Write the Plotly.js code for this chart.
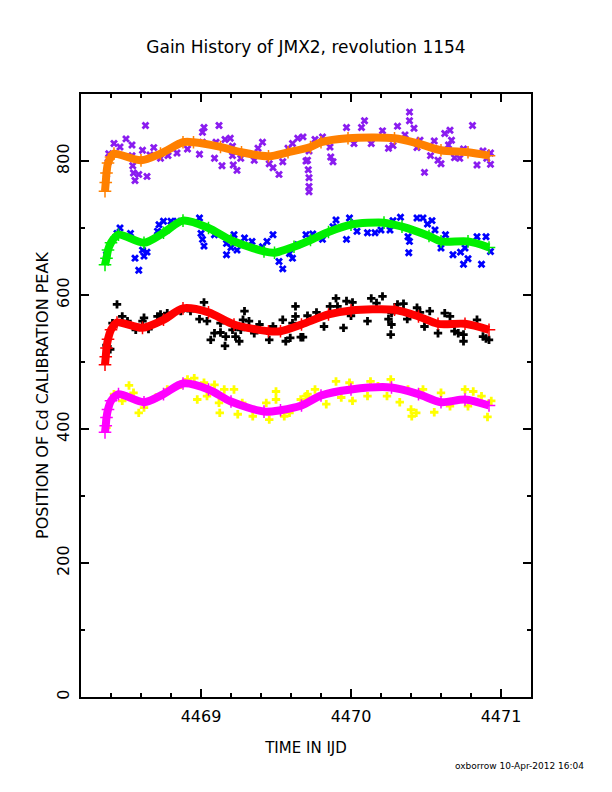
<!DOCTYPE html>
<html>
<head>
<meta charset="utf-8">
<script src="https://cdn.plot.ly/plotly-3.0.1.min.js"></script>
<style>
  html, body { margin: 0; padding: 0; background: #fff; }
  #plot { width: 612px; height: 792px; }
</style>
</head>
<body>
<div id="plot"></div>
<script>
// smoothed gain curves (drawn thick)
const orangeX = [4468.36, 4468.365, 4468.37, 4468.38, 4468.40, 4468.42, 4468.6, 4468.73, 4468.88, 4468.95, 4469.13, 4469.27, 4469.45, 4469.58, 4469.73, 4469.8, 4469.98, 4470.29, 4470.45, 4470.6, 4470.78, 4470.92]
const orangeY = [755, 768, 782, 797, 806, 811, 801, 811, 828, 828, 821, 813, 807, 813, 821, 828, 834, 834, 826, 816, 813, 808]

const greenX = [4468.36, 4468.37, 4468.38, 4468.40, 4468.45, 4468.62, 4468.75, 4468.88, 4469.05, 4469.2, 4469.42, 4469.49, 4469.62, 4469.73, 4469.85, 4470.0, 4470.22, 4470.34, 4470.52, 4470.6, 4470.78, 4470.92]
const greenY = [645, 655, 667, 678, 690, 678, 693, 711, 700, 682, 665, 663, 672, 682, 694, 705, 708, 702, 688, 680, 680, 671]

const redX = [4468.36, 4468.365, 4468.37, 4468.38, 4468.40, 4468.44, 4468.61, 4468.75, 4468.88, 4469.05, 4469.22, 4469.45, 4469.53, 4469.67, 4469.85, 4470.0, 4470.29, 4470.45, 4470.58, 4470.76, 4470.92]
const redY = [496, 508, 521, 534, 548, 559, 551, 563, 580, 574, 556, 546, 546, 556, 571, 577, 578, 568, 557, 557, 548]

const magentaX = [4468.36, 4468.365, 4468.37, 4468.38, 4468.40, 4468.45, 4468.62, 4468.75, 4468.88, 4469.05, 4469.2, 4469.42, 4469.53, 4469.67, 4469.8, 4470.0, 4470.27, 4470.45, 4470.6, 4470.76, 4470.92]
const magentaY = [395, 405, 417, 429, 442, 452, 440, 452, 468, 459, 441, 426, 428, 435, 450, 459, 462, 452, 440, 444, 435]

// raw peak positions
const purpleX = [4468.37, 4468.38, 4468.385, 4468.42, 4468.46, 4468.5, 4468.54, 4468.54, 4468.545, 4468.55, 4468.56, 4468.585, 4468.61, 4468.63, 4468.64, 4468.66, 4468.685, 4468.73, 4468.78, 4468.84, 4468.91, 4468.99, 4469.01, 4469.01, 4469.02, 4469.09, 4469.1, 4469.12, 4469.14, 4469.16, 4469.195, 4469.21, 4469.21, 4469.215, 4469.24, 4469.265, 4469.355, 4469.38, 4469.41, 4469.455, 4469.48, 4469.52, 4469.545, 4469.58, 4469.61, 4469.645, 4469.68, 4469.7, 4469.71, 4469.715, 4469.72, 4469.72, 4469.72, 4469.72, 4469.76, 4469.81, 4469.86, 4469.865, 4469.88, 4469.97, 4470.02, 4470.07, 4470.09, 4470.135, 4470.21, 4470.25, 4470.28, 4470.31, 4470.36, 4470.39, 4470.39, 4470.42, 4470.44, 4470.46, 4470.49, 4470.53, 4470.555, 4470.58, 4470.6, 4470.625, 4470.65, 4470.66, 4470.67, 4470.69, 4470.725, 4470.75, 4470.81, 4470.84, 4470.88, 4470.905, 4470.93, 4470.93]
const purpleY = [780, 798, 811, 826, 821, 833, 824, 808, 793, 782, 771, 780, 816, 853, 777, 809, 820, 804, 808, 812, 818, 810, 843, 828, 850, 804, 828, 853, 793, 832, 834, 822, 808, 794, 786, 804, 801, 819, 828, 796, 790, 780, 799, 819, 826, 834, 836, 800, 801, 787, 815, 775, 762, 754, 832, 836, 821, 806, 799, 850, 826, 850, 860, 826, 845, 819, 823, 852, 839, 873, 860, 849, 820, 831, 783, 808, 830, 801, 796, 841, 824, 846, 831, 805, 804, 818, 853, 794, 815, 804, 795, 812]

const blueX = [4468.37, 4468.44, 4468.46, 4468.53, 4468.56, 4468.585, 4468.61, 4468.62, 4468.64, 4468.71, 4468.72, 4468.75, 4468.8, 4468.84, 4468.99, 4469.0, 4469.01, 4469.02, 4469.09, 4469.17, 4469.17, 4469.2, 4469.22, 4469.24, 4469.29, 4469.34, 4469.41, 4469.44, 4469.48, 4469.52, 4469.545, 4469.59, 4469.61, 4469.645, 4469.7, 4469.745, 4469.81, 4469.88, 4469.9, 4469.97, 4469.99, 4470.04, 4470.11, 4470.16, 4470.2, 4470.26, 4470.28, 4470.33, 4470.38, 4470.385, 4470.39, 4470.44, 4470.48, 4470.51, 4470.54, 4470.56, 4470.6, 4470.63, 4470.68, 4470.73, 4470.75, 4470.76, 4470.78, 4470.84, 4470.87, 4470.9, 4470.93]
const blueY = [660, 692, 700, 692, 655, 637, 667, 658, 664, 695, 705, 710, 710, 710, 715, 692, 683, 673, 690, 677, 660, 671, 690, 667, 685, 680, 672, 680, 690, 650, 639, 662, 655, 675, 690, 691, 683, 702, 712, 683, 715, 695, 693, 693, 697, 697, 711, 716, 687, 663, 680, 715, 715, 706, 711, 697, 670, 690, 660, 664, 646, 670, 654, 687, 646, 687, 665]

const blackX = [4468.37, 4468.395, 4468.41, 4468.44, 4468.475, 4468.51, 4468.565, 4468.61, 4468.62, 4468.65, 4468.71, 4468.73, 4468.775, 4468.865, 4468.93, 4468.99, 4469.02, 4469.04, 4469.065, 4469.09, 4469.13, 4469.13, 4469.16, 4469.165, 4469.21, 4469.23, 4469.255, 4469.265, 4469.28, 4469.29, 4469.32, 4469.355, 4469.39, 4469.455, 4469.48, 4469.545, 4469.565, 4469.595, 4469.61, 4469.63, 4469.63, 4469.665, 4469.68, 4469.71, 4469.77, 4469.82, 4469.86, 4469.9, 4469.91, 4469.95, 4469.97, 4470.0, 4470.01, 4470.11, 4470.135, 4470.17, 4470.21, 4470.25, 4470.265, 4470.27, 4470.27, 4470.31, 4470.35, 4470.375, 4470.44, 4470.46, 4470.49, 4470.525, 4470.58, 4470.625, 4470.66, 4470.69, 4470.715, 4470.75, 4470.75, 4470.84, 4470.88, 4470.9, 4470.92]
const blackY = [525, 519, 558, 586, 568, 561, 548, 561, 566, 549, 568, 571, 573, 576, 576, 564, 589, 561, 533, 543, 558, 544, 524, 538, 548, 538, 531, 548, 563, 576, 561, 543, 556, 533, 553, 563, 531, 536, 558, 583, 568, 537, 537, 569, 574, 553, 583, 595, 583, 551, 591, 569, 589, 561, 595, 588, 598, 564, 541, 573, 556, 586, 587, 564, 581, 574, 553, 576, 543, 573, 568, 546, 543, 541, 531, 563, 538, 535, 533]

const yellowX = [4468.37, 4468.42, 4468.475, 4468.52, 4468.55, 4468.585, 4468.62, 4468.7, 4468.775, 4468.865, 4468.91, 4468.955, 4468.975, 4469.02, 4469.04, 4469.09, 4469.12, 4469.125, 4469.155, 4469.22, 4469.245, 4469.275, 4469.345, 4469.435, 4469.455, 4469.5, 4469.5, 4469.555, 4469.59, 4469.665, 4469.7, 4469.71, 4469.76, 4469.835, 4469.9, 4469.935, 4469.99, 4470.01, 4470.11, 4470.13, 4470.18, 4470.24, 4470.265, 4470.325, 4470.38, 4470.4, 4470.405, 4470.435, 4470.48, 4470.555, 4470.6, 4470.66, 4470.76, 4470.78, 4470.815, 4470.87, 4470.91, 4470.935]
const yellowY = [402, 452, 442, 465, 454, 424, 432, 447, 459, 466, 474, 476, 444, 469, 449, 466, 439, 424, 459, 459, 422, 439, 419, 439, 414, 456, 444, 419, 424, 444, 449, 452, 459, 437, 471, 447, 469, 442, 449, 471, 464, 449, 474, 440, 459, 429, 419, 424, 459, 425, 454, 434, 459, 434, 456, 449, 418, 442]

const xTicks = [4469, 4470, 4471]
const yTicks = [0, 200, 400, 600, 800]

function raw(x, y, color, symbol){
    return {
        x: x, y: y,
        type: "scatter",
        mode: "markers",
        marker: {symbol: symbol, size: 7, color: color, line: {width: 0}},
        hoverinfo: "x+y"
    }
}

function smooth(x, y, color){
    return {
        x: x, y: y,
        type: "scatter",
        mode: "lines+markers",
        line: {color: color, width: 8, shape: "spline", smoothing: 0.8},
        marker: {symbol: "cross-thin-open", size: 9, line: {color: color, width: 1.5}},
        hoverinfo: "x+y"
    }
}

const data = [
    raw(purpleX, purpleY, "#8a1cf0", "x"),
    smooth(orangeX, orangeY, "#ff8000"),
    raw(blueX, blueY, "#0000ff", "x"),
    smooth(greenX, greenY, "#00f000"),
    raw(blackX, blackY, "#000000", "cross"),
    smooth(redX, redY, "#ff0000"),
    raw(yellowX, yellowY, "#ffff00", "cross"),
    smooth(magentaX, magentaY, "#ff00ff")
]

const face = "DejaVu Sans, Verdana, sans-serif"
const tickFont = {family: face, size: 16, color: "#000"}

const layout = {
    width: 612,
    height: 792,
    showlegend: false,
    paper_bgcolor: "#fff",
    plot_bgcolor: "#fff",
    margin: {l: 81, r: 81, t: 94, b: 95},
    font: {family: face, size: 15, color: "#000"},
    title: {
        text: "Gain History of JMX2, revolution 1154",
        font: {family: face, size: 17, color: "#000"},
        x: 0.5, xref: "paper", xanchor: "center",
        y: 1 - 47/792, yref: "container", yanchor: "middle"
    },
    xaxis: {
        range: [4468.2, 4471.2],
        tickvals: xTicks,
        ticktext: xTicks.map(String),
        ticks: "inside", ticklen: 8, tickwidth: 2, tickcolor: "#000",
        minor: {dtick: 0.2, tick0: 4469, ticks: "inside", ticklen: 4, tickwidth: 2, tickcolor: "#000"},
        showline: true, linewidth: 2, linecolor: "#000", mirror: "ticks",
        showgrid: false, zeroline: false,
        ticklabelstandoff: 4,
        tickfont: tickFont,
        title: {text: "TIME IN IJD", font: {family: face, size: 15, color: "#000"}, standoff: 17}
    },
    yaxis: {
        range: [0, 900],
        tickvals: yTicks,
        ticktext: yTicks.map(String),
        tickangle: -90,
        ticks: "inside", ticklen: 8, tickwidth: 2, tickcolor: "#000",
        minor: {dtick: 100, tick0: 0, ticks: "inside", ticklen: 4, tickwidth: 2, tickcolor: "#000"},
        showline: true, linewidth: 2, linecolor: "#000", mirror: "ticks",
        showgrid: false, zeroline: false,
        ticklabelstandoff: 4,
        tickfont: tickFont,
        title: {text: "POSITION OF Cd CALIBRATION PEAK", font: {family: face, size: 16, color: "#000"}, standoff: 1}
    },
    annotations: [{
        text: "oxborrow 10-Apr-2012 16:04",
        xref: "paper", yref: "paper",
        x: 1.122, y: -0.115,
        xanchor: "right", yanchor: "middle",
        showarrow: false,
        font: {family: face, size: 9, color: "#000"}
    }]
}

Plotly.newPlot("plot", data, layout, {staticPlot: true})
</script>
</body>
</html>
